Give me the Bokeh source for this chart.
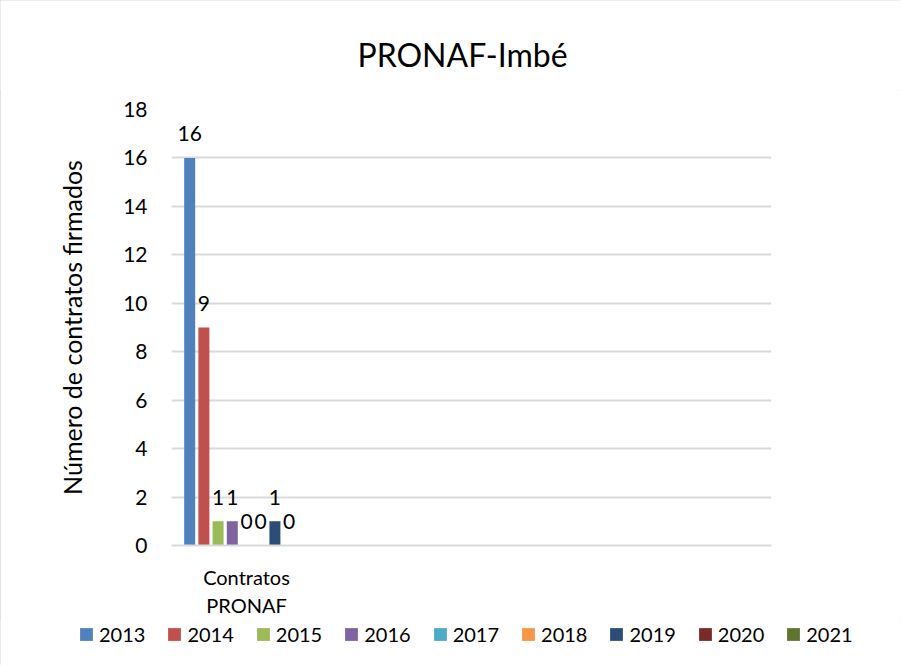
from bokeh.plotting import figure
from bokeh.models import (ColumnDataSource, Range1d, FixedTicker, Legend, LegendItem,
                          Label, LabelSet)
from bokeh.layouts import column, row
from bokeh.core.properties import value
from bokeh.embed import file_html
from bokeh.resources import INLINE

# ---- data ----
title_text = "PRONAF-Imbé"
category = "Contratos\nPRONAF"
years = ["2013", "2014", "2015", "2016", "2017", "2018", "2019", "2020", "2021"]
values = [16, 9, 1, 1, 0, 0, 1, 0, None]
colors = ["#4F81BD", "#C0504D", "#9BBB59", "#8064A2", "#4BACC6",
          "#F79646", "#2C4D75", "#772C2A", "#5F7530"]
n_slots = 4          # category slots on the axis (only the first is filled)
y_ticks = list(range(0, 19, 2))

FONT = "Lato"

W = 900
H_TITLE, H_MAIN, H_LEG = 90, 530, 45


def strip(h):
    f = figure(width=W, height=h, output_backend="svg", toolbar_location=None,
               x_range=Range1d(0, n_slots), y_range=Range1d(0, 1),
               min_border_left=0, min_border_right=0, min_border_top=0,
               min_border_bottom=0)
    f.axis.visible = False
    f.grid.grid_line_color = None
    f.outline_line_color = None
    return f


# ---- title strip ----
tf = strip(H_TITLE)
tf.add_layout(Label(x=462 / W * n_slots, y=0.4, text=title_text,
                    text_font=FONT, text_font_size="32px",
                    text_align="center", text_baseline="alphabetic",
                    text_color="#000000"))

# ---- main chart ----
p = figure(width=W, height=H_MAIN, output_backend="svg", toolbar_location=None,
           x_range=Range1d(0, n_slots), y_range=Range1d(0, 18),
           min_border_left=171, min_border_right=129,
           min_border_top=109 - H_TITLE,
           min_border_bottom=H_TITLE + H_MAIN - 548)
p.outline_line_color = None
p.background_fill_color = "white"
p.border_fill_color = "white"

center = 0.5
step = 0.0947
bw = 0.0733
label_x, label_y, label_t = [], [], []
for i, (yr, v, c) in enumerate(zip(years, values, colors)):
    xpos = center + (i - (len(years) - 1) / 2) * step
    top = v if v is not None else 0
    src = ColumnDataSource(dict(x=[xpos], top=[top]))
    p.vbar(x="x", top="top", width=bw, source=src, fill_color=c, line_color=None)
    if v is not None:
        label_x.append(xpos)
        label_y.append(v)
        label_t.append(str(v))

lsrc = ColumnDataSource(dict(x=label_x, y=label_y, t=label_t))
p.add_layout(LabelSet(x="x", y="y", text="t", source=lsrc, text_font=value(FONT),
                      text_font_size=value("21px"), text_align="center",
                      text_baseline="middle", y_offset=24, text_color="#000000"))

p.xaxis.ticker = FixedTicker(ticks=[center])
p.xaxis.major_label_overrides = {center: category}
p.xaxis.major_label_text_font = FONT
p.xaxis.major_label_text_font_size = "20px"
p.xaxis.major_label_text_color = "#000000"
p.xaxis.major_tick_line_color = None
p.xaxis.minor_tick_line_color = None
p.xaxis.axis_line_color = "#D9D9D9"
p.xaxis.axis_line_width = 2
p.xaxis.major_label_standoff = 13

p.yaxis.ticker = FixedTicker(ticks=y_ticks)
p.yaxis.axis_label = "Número de contratos firmados"
p.yaxis.axis_label_text_font = FONT
p.yaxis.axis_label_text_font_size = "25px"
p.yaxis.axis_label_text_font_style = "normal"
p.yaxis.axis_label_text_color = "#000000"
p.yaxis.axis_label_standoff = 33
p.yaxis.major_label_text_font = FONT
p.yaxis.major_label_text_font_size = "21px"
p.yaxis.major_label_text_color = "#000000"
p.yaxis.major_label_standoff = 18
p.yaxis.axis_line_color = None
p.yaxis.major_tick_line_color = None
p.yaxis.minor_tick_line_color = None

p.xgrid.grid_line_color = None
p.ygrid.grid_line_color = "#D9D9D9"
p.ygrid.grid_line_width = 2

# ---- legend strip ----
lg = strip(H_LEG)
items = []
for yr, c in zip(years, colors):
    r = lg.vbar(x=[5], top=[0], width=0.1, fill_color=c, line_color=None)
    items.append(LegendItem(label=yr, renderers=[r]))
legend = Legend(items=items, orientation="horizontal", location=(78, 19),
                glyph_width=16, glyph_height=16, label_standoff=5,
                spacing=21, padding=0, margin=0, border_line_color=None,
                background_fill_alpha=0, label_text_font=FONT,
                label_text_font_size="20px", label_text_color="#000000",
                label_height=20)
lg.add_layout(legend, "center")

layout = column(row(tf), p, row(lg), spacing=0)
layout.styles = {"outline": "1px solid #D9D9D9", "outline-offset": "-1px"}

open("out.html", "w").write(file_html(layout, INLINE))
